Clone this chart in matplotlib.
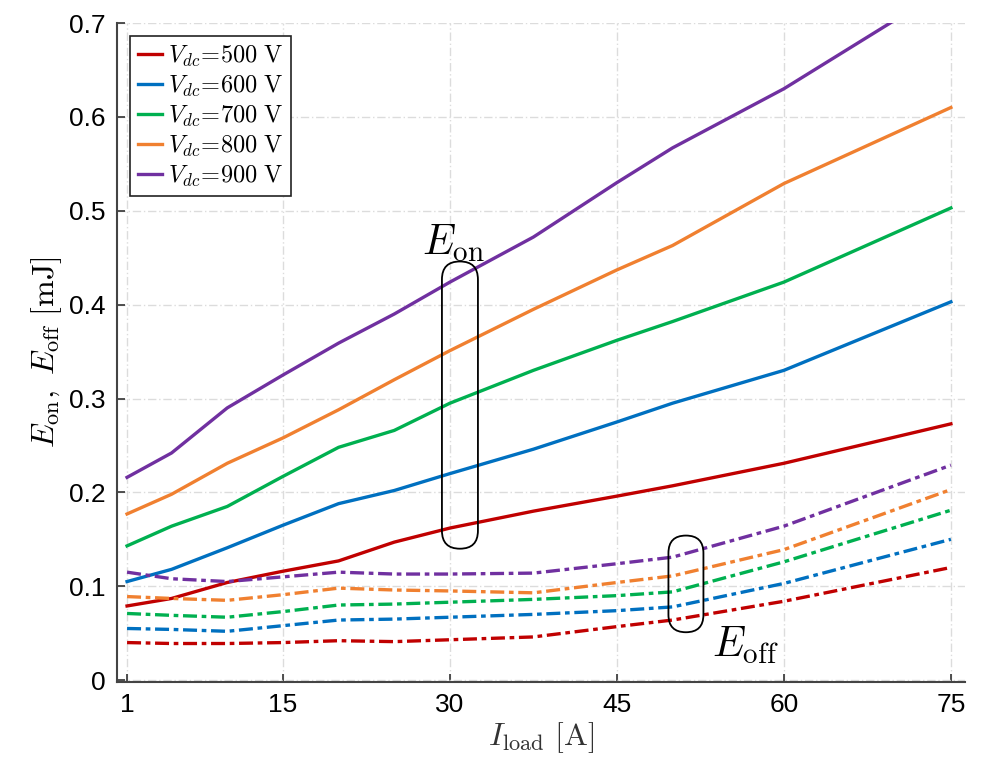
import numpy as np
import matplotlib
matplotlib.use("Agg")
from matplotlib import pyplot as plt
from matplotlib.patches import FancyBboxPatch
from matplotlib.transforms import IdentityTransform

plt.rcParams["mathtext.fontset"] = "cm"
plt.rcParams["font.family"] = ["Liberation Sans", "DejaVu Sans"]

# load current [A]
i_load = [1, 5, 10, 15, 20, 25, 30, 37.5, 45, 50, 60, 75]
voltages = [500, 600, 700, 800, 900]
colors = ["#C00000", "#0070C0", "#00B050", "#F08030", "#7030A0"]

# turn-on energy [mJ]
e_on = {
    500: [0.079, 0.087, 0.104, 0.116, 0.127, 0.147, 0.162, 0.180, 0.196, 0.207, 0.231, 0.273],
    600: [0.105, 0.118, 0.141, 0.165, 0.188, 0.202, 0.220, 0.246, 0.275, 0.295, 0.330, 0.403],
    700: [0.143, 0.164, 0.185, 0.217, 0.248, 0.266, 0.295, 0.330, 0.362, 0.382, 0.424, 0.503],
    800: [0.177, 0.198, 0.231, 0.258, 0.288, 0.320, 0.351, 0.395, 0.437, 0.463, 0.529, 0.610],
    900: [0.216, 0.242, 0.290, 0.325, 0.359, 0.390, 0.424, 0.472, 0.530, 0.567, 0.630, 0.740],
}
# turn-off energy [mJ]
e_off = {
    500: [0.040, 0.039, 0.039, 0.040, 0.042, 0.041, 0.043, 0.046, 0.057, 0.064, 0.084, 0.120],
    600: [0.055, 0.054, 0.052, 0.058, 0.064, 0.065, 0.067, 0.070, 0.074, 0.078, 0.103, 0.150],
    700: [0.071, 0.069, 0.067, 0.073, 0.080, 0.081, 0.083, 0.086, 0.090, 0.094, 0.126, 0.181],
    800: [0.089, 0.087, 0.085, 0.091, 0.098, 0.096, 0.095, 0.093, 0.104, 0.111, 0.139, 0.203],
    900: [0.115, 0.108, 0.105, 0.110, 0.115, 0.113, 0.113, 0.114, 0.124, 0.131, 0.164, 0.229],
}
x_ticks = [1, 15, 30, 45, 60, 75]
y_ticks = [0, 0.1, 0.2, 0.3, 0.4, 0.5, 0.6, 0.7]

fig = plt.figure(figsize=(10.02, 7.78), dpi=100)
ax = fig.add_axes([0.1168, 0.1234, 0.8462, 0.847])

for v, c in zip(voltages, colors):
    ax.plot(i_load, e_on[v], color=c, lw=2.4, label=rf"$V_{{dc}}\!=\!{v}\ \mathrm{{V}}$", zorder=3)
    ax.plot(i_load, e_off[v], color=c, lw=2.4, dashes=[4.2, 1.4, 1.4, 1.4], zorder=3)

ax.set_xlim(0.1, 76.26)
ax.set_ylim(-0.002, 0.7)
ax.set_xticks(x_ticks)
ax.set_yticks(y_ticks)
ax.set_yticklabels(["0", "0.1", "0.2", "0.3", "0.4", "0.5", "0.6", "0.7"])
ax.tick_params(direction="in", length=6, width=1.2, labelsize=19, color="#333333", pad=8)
ax.grid(True, color="#dcdcdc", linestyle=(0, (6, 2, 1, 2)), lw=1, zorder=0)
for s in ["top", "right"]:
    ax.spines[s].set_visible(False)
for s in ["left", "bottom"]:
    ax.spines[s].set_color("#444444")
    ax.spines[s].set_linewidth(1.5)

ax.set_xlabel(r"$I_{\rm load}\ [\mathrm{A}]$", fontsize=23, color="#333333", labelpad=2)
ax.set_ylabel(r"$E_{\rm on},\ E_{\rm off}\ [\mathrm{mJ}]$", fontsize=23, labelpad=4)

leg = ax.legend(loc="upper left", fontsize=17.5, handlelength=1.0, handletextpad=0.25,
                labelspacing=0.2, borderaxespad=0.55, fancybox=False, framealpha=1,
                edgecolor="#222222", borderpad=0.3)
leg.get_frame().set_linewidth(1.2)

ax.text(30.3, 0.465, r"$E_{\rm on}$", fontsize=30, ha="center", va="center")
ax.text(56.5, 0.037, r"$E_{\rm off}$", fontsize=30, ha="center", va="center")


def stadium(xc, y0, y1, w_px):
    xd, yd0 = ax.transData.transform((xc, y0))
    _, yd1 = ax.transData.transform((xc, y1))
    p = FancyBboxPatch((xd - w_px / 2, yd0), w_px, yd1 - yd0,
                       boxstyle=f"round,pad=0,rounding_size={w_px / 2}",
                       transform=IdentityTransform(), fill=False, ec="k", lw=1.3, zorder=5)
    fig.add_artist(p)


stadium(30.9, 0.140, 0.446, 36)
stadium(51.2, 0.051, 0.154, 35)

fig.savefig("out.png", dpi=100)
